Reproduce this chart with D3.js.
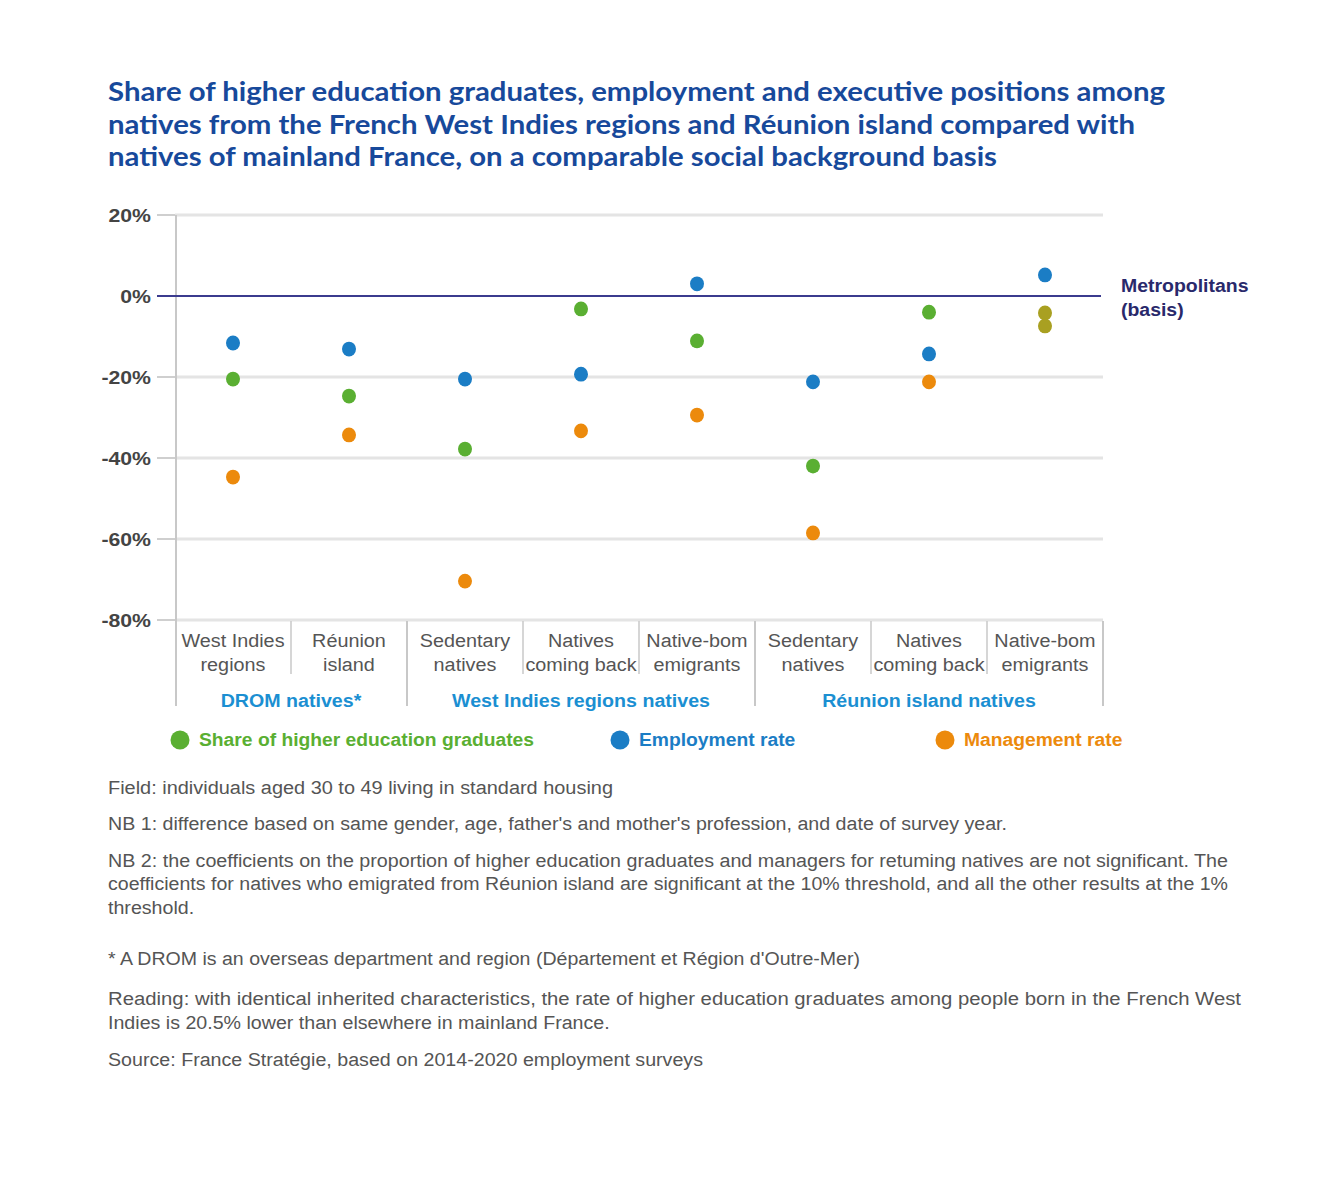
<!DOCTYPE html>
<html>
<head>
<meta charset="utf-8">
<script src="https://cdn.jsdelivr.net/npm/d3@7"></script>
<style>
  html, body { margin: 0; padding: 0; background: #fff; }
  svg { display: block; }
</style>
</head>
<body>
<svg id="chart" width="1339" height="1182"></svg>
<script>
// ---------- data ----------
const categories = [
  "West Indies\nregions", "Réunion\nisland",
  "Sedentary\nnatives", "Natives\ncoming back", "Native-bom\nemigrants",
  "Sedentary\nnatives", "Natives\ncoming back", "Native-bom\nemigrants"
];
const groups = ["DROM natives*", "West Indies regions natives", "Réunion island natives"];
const groupSizes = [2, 3, 3];
const seriesNames = ["Share of higher education graduates", "Employment rate", "Management rate"];
const graduates = [-20.5, -24.7, -37.8, -3.2, -11.1, -42.0, -4.0, -4.2];
const employment = [-11.6, -13.1, -20.5, -19.3, 3.0, -21.2, -14.3, 5.2];
const management = [-44.7, -34.3, -70.4, -33.3, -29.4, -58.5, -21.2, -7.4];
const yTicks = [20, 0, -20, -40, -60, -80];
const title = [
  "Share of higher education graduates, employment and executive positions among",
  "natives from the French West Indies regions and Réunion island compared with",
  "natives of mainland France, on a comparable social background basis"
];
const notes = [
  "Field: individuals aged 30 to 49 living in standard housing",
  "NB 1: difference based on same gender, age, father's and mother's profession, and date of survey year.",
  "NB 2: the coefficients on the proportion of higher education graduates and managers for retuming natives are not significant. The",
  "coefficients for natives who emigrated from Réunion island are significant at the 10% threshold, and all the other results at the 1%",
  "threshold.",
  "* A DROM is an overseas department and region (Département et Région d'Outre-Mer)",
  "Reading: with identical inherited characteristics, the rate of higher education graduates among people born in the French West",
  "Indies is 20.5% lower than elsewhere in mainland France.",
  "Source: France Stratégie, based on 2014-2020 employment surveys"
];

// ---------- styles ----------
const colors = ["#5aaf32", "#1b7dc5", "#ec8a0c"];
const overlapColor = "#a9a021";
const FONT = "'Liberation Sans', Arial, sans-serif";
const svg = d3.select("#chart");

// horizontally stretch text (reference glyphs are wider than Arial at same height)
function stretch(sel, k, fixed) {
  sel.each(function(d, i) {
    const w = fixed && fixed[i] ? fixed[i] : this.getComputedTextLength() * k;
    d3.select(this).attr("textLength", w).attr("lengthAdjust", "spacingAndGlyphs");
  });
}

const x = d3.scaleBand().domain(d3.range(categories.length)).range([175, 1103]);
const y = d3.scaleLinear().domain([-80, 20]).range([620, 215]);

// title
svg.append("g").selectAll("text").data(title).join("text")
  .attr("x", 108).attr("y", (d, i) => 101 + i * 32.5)
  .attr("font-family", "Lato, 'Open Sans', sans-serif")
  .attr("font-weight", 700).attr("font-size", 26.5)
  .attr("fill", "#17499b")
  .attr("textLength", (d, i) => [1057, 1027, 889][i])
  .attr("lengthAdjust", "spacingAndGlyphs")
  .text(d => d);

// gridlines
svg.append("g").selectAll("line").data(yTicks.filter(t => t !== 0)).join("line")
  .attr("x1", 175).attr("x2", 1103)
  .attr("y1", d => y(d)).attr("y2", d => y(d))
  .attr("stroke", "#e4e4e4").attr("stroke-width", 3);

// y axis ticks & labels
const yAxis = svg.append("g");
yAxis.selectAll("line.tick").data(yTicks).join("line")
  .attr("x1", 157).attr("x2", 175)
  .attr("y1", d => y(d)).attr("y2", d => y(d))
  .attr("stroke", "#cfcfcf").attr("stroke-width", 2);
const yLab = yAxis.selectAll("text").data(yTicks).join("text")
  .attr("x", 151).attr("y", d => y(d) + 6.5)
  .attr("text-anchor", "end")
  .attr("font-family", FONT)
  .attr("font-weight", 700).attr("font-size", 18).attr("fill", "#444")
  .text(d => d + "%");
stretch(yLab, 1.18);
yAxis.append("line").attr("x1", 176).attr("x2", 176).attr("y1", 215).attr("y2", 706)
  .attr("stroke", "#c8c8c8").attr("stroke-width", 2);

// zero line
svg.append("line").attr("x1", 157).attr("x2", 1101)
  .attr("y1", y(0)).attr("y2", y(0))
  .attr("stroke", "#3b3b8e").attr("stroke-width", 2);
const metro = svg.append("g").selectAll("text").data(["Metropolitans", "(basis)"]).join("text")
  .attr("x", 1121).attr("y", (d, i) => 292 + i * 24)
  .attr("font-family", FONT)
  .attr("font-weight", 700).attr("font-size", 18).attr("fill", "#29296b")
  .text(d => d);
stretch(metro, 1.08);

// category separators
const groupStarts = [];
let acc = 0;
groupSizes.forEach(s => { groupStarts.push(acc); acc += s; });
const sepG = svg.append("g");
d3.range(1, categories.length + 1).forEach(i => {
  const isGroupEnd = groupStarts.includes(i) || i === categories.length;
  const xx = i === categories.length ? x.range()[1] : x(i);
  sepG.append("line").attr("x1", xx).attr("x2", xx)
    .attr("y1", 621).attr("y2", isGroupEnd ? 706 : 674)
    .attr("stroke", "#c8c8c8").attr("stroke-width", isGroupEnd ? 2 : 1.5);
});

// category labels (one text per line)
const catLines = [];
categories.forEach((c, i) => c.split("\n").forEach((l, j) => catLines.push({ i, j, l })));
const catText = svg.append("g").selectAll("text").data(catLines).join("text")
  .attr("x", d => x(d.i) + x.bandwidth() / 2)
  .attr("y", d => 647 + d.j * 24)
  .attr("text-anchor", "middle")
  .attr("font-family", FONT)
  .attr("font-size", 18).attr("fill", "#555")
  .text(d => d.l);
stretch(catText, 1.1);

// group labels
const grpText = svg.append("g").selectAll("text").data(groups).join("text")
  .attr("x", (d, i) => {
    const s = groupStarts[i], e = s + groupSizes[i];
    const x0 = x(s), x1 = e === categories.length ? x.range()[1] : x(e);
    return (x0 + x1) / 2;
  })
  .attr("y", 707)
  .attr("text-anchor", "middle")
  .attr("font-family", FONT)
  .attr("font-weight", 700).attr("font-size", 18).attr("fill", "#1b8fd2")
  .text(d => d);
stretch(grpText, 1.09);

// points
const seriesData = [graduates, employment, management];
const pts = [];
seriesData.forEach((arr, s) => arr.forEach((v, i) => pts.push({ s, i, v })));
svg.append("g").selectAll("ellipse").data(pts).join("ellipse")
  .attr("cx", d => x(d.i) + x.bandwidth() / 2)
  .attr("cy", d => y(d.v))
  .attr("rx", 7).attr("ry", 7.4)
  .attr("fill", d => (d.i === categories.length - 1 && d.s !== 1) ? overlapColor : colors[d.s]);

// legend
const legendX = [180, 620, 945];
const lg = svg.append("g");
seriesNames.forEach((n, i) => {
  lg.append("circle").attr("cx", legendX[i]).attr("cy", 740).attr("r", 9.5).attr("fill", colors[i]);
  const t = lg.append("text").attr("x", legendX[i] + 19).attr("y", 746)
    .attr("font-family", FONT)
    .attr("font-weight", 700).attr("font-size", 18).attr("fill", colors[i])
    .text(n);
  stretch(t, 1.07);
});

// notes
const noteY = [794, 830, 867, 890, 914, 965, 1005, 1029, 1066];
const noteLen = [505, 899, 1120, 1120, null, 752, 1133, null, 595];
const noteText = svg.append("g").selectAll("text").data(notes).join("text")
  .attr("x", 108).attr("y", (d, i) => noteY[i])
  .attr("font-family", FONT)
  .attr("font-size", 18).attr("fill", "#555")
  .text(d => d);
stretch(noteText, 1.09, noteLen);
</script>
</body>
</html>
